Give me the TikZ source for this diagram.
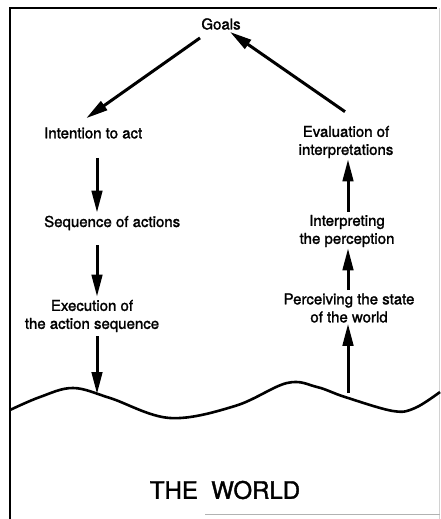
\documentclass[tikz,border=0pt]{standalone}
\usepackage{fontspec}
\setmainfont{TeX Gyre Heros}[FakeBold=1.6]
\usepackage{tikz}
\usetikzlibrary{positioning,arrows.meta}

\begin{document}
\begin{tikzpicture}[x=1pt,y=1pt,
    label/.style={font=\fontsize{15}{18}\selectfont,align=center,inner sep=1pt},
    flow/.style={-{Triangle[length=22pt,width=10.5pt]},line width=3pt}]
    \useasboundingbox (0,0) rectangle (440,-519);
    % frame
    \draw[line width=1.8pt] (10,-519) -- (10,-8) -- (437,-8);
    \draw[gray!35,line width=0.6pt] (439,-8) -- (439,-519);
    \draw[gray!60,line width=1pt] (205,-514) -- (440,-514);
    % texts
    \node[label] (goals) at (221,-24) {Goals};
    \node[label, anchor=west] (intention) at (43,-133) {Intention to act};
    \node[label, anchor=west] (sequence) at (43,-223) {Sequence of actions};
    \node[label] (execution) at (92,-316) {Execution of\\the action sequence};
    \node[label] (evaluation) at (346,-142) {Evaluation of\\interpretations};
    \node[label] (interpreting) at (347,-231) {Interpreting\\the perception};
    \node[label] (perceiving) at (349,-308) {Perceiving the state\\of the world};
    \node[font=\fontsize{24}{28}\selectfont] (world) at (225,-490) {THE\ \ WORLD};
    % the surface of the world
    \draw[line width=2.6pt] plot[smooth,tension=0.6] coordinates {(10,-410) (40,-397) (73,-388) (110,-398)
        (170,-418) (235,-406) (287,-383) (317,-387) (345,-397) (393,-411) (415,-408) (440,-392)};
    \coordinate (touch) at (97,-394);
    \coordinate (lift) at (348,-393);
    % arrows
    \draw[flow] ([shift={(-21,-7)}]goals.south) -- ([shift={(-7,8)}]intention.north);
    \draw[flow] ([shift={(-1,13)}]evaluation.north) -- ([shift={(9,-1)}]goals.south);
    \draw[flow, shorten <=18pt, shorten >=2pt] (intention.south -| touch) -- (sequence.north -| touch);
    \draw[flow, shorten <=14pt, shorten >=2pt] (sequence.south -| touch) -- (execution.north -| touch);
    \draw[flow, shorten <=3pt] (execution.south -| touch) -- (touch);
    \draw[flow] (lift) -- (perceiving.south -| lift);
    \draw[flow, shorten <=2pt] (perceiving.north -| lift) -- (interpreting.south -| lift);
    \draw[flow, shorten <=2pt] (interpreting.north -| lift) -- (evaluation.south -| lift);
\end{tikzpicture}
\end{document}
